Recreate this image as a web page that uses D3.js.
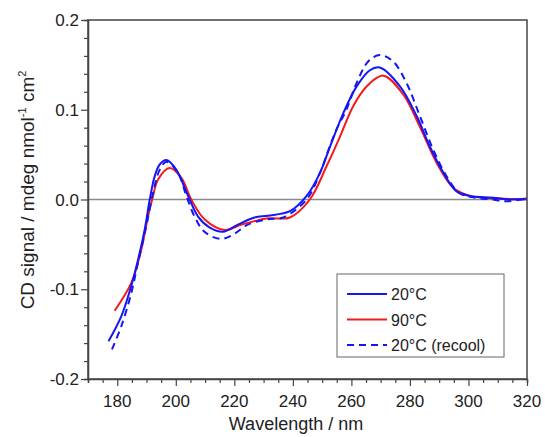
<!DOCTYPE html>
<html>
<head>
<meta charset="utf-8">
<script src="https://cdn.jsdelivr.net/npm/d3@7"></script>
<style>
  body { margin: 0; background: #fff; }
  text { font-family: "Liberation Sans", Arial, sans-serif; fill: #222; }
  .curve { fill: none; stroke-width: 2; }
</style>
</head>
<body>
<div id="chart"></div>
<script>
// wavelengths (nm) and CD signal
var wl20 = [177, 181.4, 184.8, 187.1, 189.4, 191.1, 192.8, 194.5, 196.8, 200.2, 204.2, 207.6, 211.5, 216.1, 221.2, 226.9, 231.5, 239, 244.7, 249.3, 252.7, 257.2, 261.8, 266.3, 269.7, 276.6, 282.3, 286.8, 291.4, 295.9, 300.5, 308.4, 314, 320];
var cd20 = [-0.158, -0.130, -0.096, -0.067, -0.033, 0.0, 0.026, 0.039, 0.044, 0.033, 0.004, -0.019, -0.031, -0.036, -0.028, -0.020, -0.018, -0.013, 0.004, 0.030, 0.059, 0.096, 0.126, 0.144, 0.147, 0.126, 0.093, 0.059, 0.030, 0.009, 0.004, 0.002, 0.0, 0.001];

var wl90 = [179.1, 184.8, 188.2, 190.5, 192, 193.9, 197.9, 201.9, 205.3, 209.8, 216.7, 222.4, 231.5, 239, 245.8, 251.5, 256.1, 260.6, 265.2, 270.9, 277.7, 283.4, 289.1, 294.8, 300.5, 310.8, 320];
var cd90 = [-0.124, -0.093, -0.056, -0.019, 0.001, 0.022, 0.035, 0.024, 0.0, -0.022, -0.034, -0.028, -0.021, -0.020, 0.0, 0.037, 0.070, 0.104, 0.126, 0.138, 0.117, 0.081, 0.041, 0.013, 0.004, 0.001, 0.0];

var wlRe = [178.2, 181.4, 184.8, 187.1, 189.9, 192.2, 194.5, 196.8, 200.7, 203.6, 206.4, 209.8, 215.5, 220.1, 224.6, 231.5, 236.7, 244.7, 249.3, 252.7, 254.9, 258.3, 261.8, 265.8, 269.7, 274.2, 278.8, 283.4, 287.9, 292.5, 297, 302.2, 308, 313, 320];
var cdRe = [-0.167, -0.141, -0.104, -0.070, -0.030, 0.007, 0.033, 0.042, 0.030, 0.004, -0.019, -0.036, -0.044, -0.038, -0.028, -0.022, -0.020, 0.0, 0.030, 0.060, 0.078, 0.100, 0.130, 0.154, 0.161, 0.154, 0.130, 0.093, 0.056, 0.026, 0.007, 0.002, 0.0, -0.002, 0.001];

var seriesNames = ["20°C", "90°C", "20°C (recool)"];
var xTicks = [180, 200, 220, 240, 260, 280, 300, 320];
var yTicks = [-0.2, -0.1, 0.0, 0.1, 0.2];

var width = 545, height = 437;
var margin = { left: 88, right: 18, top: 20, bottom: 58 };

var svg = d3.select("#chart").append("svg")
	.attr("width", width)
	.attr("height", height);

var x = d3.scaleLinear().domain([170, 320]).range([margin.left, width - margin.right]);
var y = d3.scaleLinear().domain([-0.2, 0.2]).range([height - margin.bottom, margin.top]);

var series = [
	{ name: seriesNames[0], wl: wl20, cd: cd20, color: "#1515f5", dash: null },
	{ name: seriesNames[1], wl: wl90, cd: cd90, color: "#f51a1a", dash: null },
	{ name: seriesNames[2], wl: wlRe, cd: cdRe, color: "#1515f5", dash: "7,5" }
];

// zero line
svg.append("line")
	.attr("x1", x(170)).attr("x2", x(320))
	.attr("y1", y(0)).attr("y2", y(0))
	.attr("stroke", "#8a8a8a")
	.attr("stroke-width", 1.5);

var line = d3.line()
	.x(function(d) { return x(d[0]); })
	.y(function(d) { return y(d[1]); })
	.curve(d3.curveCatmullRom.alpha(0.5));

// order: red under blue
[series[1], series[0], series[2]].forEach(function(s) {
	var pts = s.wl.map(function(w, i) { return [w, s.cd[i]]; });
	svg.append("path")
		.attr("class", "curve")
		.attr("d", line(pts))
		.attr("stroke", s.color)
		.attr("stroke-dasharray", s.dash);
});

// frame
svg.append("rect")
	.attr("x", x(170)).attr("y", y(0.2))
	.attr("width", x(320) - x(170))
	.attr("height", y(-0.2) - y(0.2))
	.attr("fill", "none")
	.attr("stroke", "#444")
	.attr("stroke-width", 1.5);

// x axis: minor every 5, major every 20
var gx = svg.append("g").attr("transform", "translate(0," + y(-0.2) + ")");
gx.call(d3.axisBottom(x).tickValues(d3.range(170, 321, 5)).tickSize(4).tickFormat(""));
gx.call(function(g) {
	g.selectAll(".tick").filter(function(d) { return xTicks.indexOf(d) >= 0; })
		.select("line").attr("y2", 7);
});
xTicks.forEach(function(t) {
	gx.append("text")
		.attr("x", x(t)).attr("y", 28)
		.attr("text-anchor", "middle")
		.style("font-size", "17px")
		.text(t);
});

// y axis: minor every 0.02, major every 0.1
var gy = svg.append("g").attr("transform", "translate(" + x(170) + ",0)");
gy.call(d3.axisLeft(y).tickValues(d3.range(-10, 11).map(function(i) { return i * 0.02; })).tickSize(4).tickFormat(""));
gy.call(function(g) {
	g.selectAll(".tick").filter(function(d) { return Math.abs(d * 10 - Math.round(d * 10)) < 1e-6; })
		.select("line").attr("x2", -7);
});
yTicks.forEach(function(t) {
	gy.append("text")
		.attr("x", -9).attr("y", y(t) + 6)
		.attr("text-anchor", "end")
		.style("font-size", "17px")
		.text(t.toFixed(1));
});
svg.selectAll(".domain").attr("stroke", "#444").attr("stroke-width", 1.5);
svg.selectAll(".tick line").attr("stroke", "#444").attr("stroke-width", 1.2);

// axis titles
svg.append("text")
	.attr("x", 296).attr("y", 430)
	.attr("text-anchor", "middle")
	.style("font-size", "18px")
	.text("Wavelength / nm");

var yl = svg.append("text")
	.attr("transform", "translate(34,190) rotate(-90)")
	.attr("text-anchor", "middle")
	.style("font-size", "19px");
yl.append("tspan").text("CD signal / mdeg nmol");
yl.append("tspan").attr("dy", -8).style("font-size", "11px").text("-1");
yl.append("tspan").attr("dy", 8).text(" cm");
yl.append("tspan").attr("dy", -8).style("font-size", "11px").text("2");

// legend
var lg = svg.append("g").attr("transform", "translate(337,274)");
lg.append("rect")
	.attr("width", 167).attr("height", 83)
	.attr("fill", "#fff")
	.attr("stroke", "#666")
	.attr("stroke-width", 1);
series.forEach(function(s, i) {
	var ly = 20 + i * 25.5;
	lg.append("line")
		.attr("x1", 10).attr("x2", 50)
		.attr("y1", ly).attr("y2", ly)
		.attr("stroke", s.color)
		.attr("stroke-width", 2)
		.attr("stroke-dasharray", s.dash);
	lg.append("text")
		.attr("x", 54).attr("y", ly + 6)
		.style("font-size", "16px")
		.text(s.name);
});
</script>
</body>
</html>
